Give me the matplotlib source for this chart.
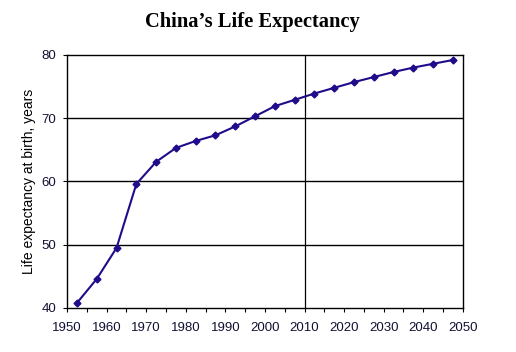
import matplotlib
matplotlib.use("Agg")
import matplotlib.pyplot as plt
from matplotlib.ticker import MultipleLocator

# China life expectancy, 5-year periods (midpoints), UN estimates/projections
years = [1952.5, 1957.5, 1962.5, 1967.5, 1972.5, 1977.5, 1982.5, 1987.5, 1992.5, 1997.5,
         2002.5, 2007.5, 2012.5, 2017.5, 2022.5, 2027.5, 2032.5, 2037.5, 2042.5, 2047.5]
life_exp = [40.8, 44.6, 49.5, 59.6, 63.1, 65.3, 66.4, 67.3, 68.7, 70.3,
            71.9, 72.9, 73.9, 74.8, 75.7, 76.5, 77.3, 78.0, 78.6, 79.2]

line_color = "#1f0c8a"
text_color = "#111133"

fig = plt.figure(figsize=(5.16, 3.52), dpi=100)
ax = fig.add_axes([0.130, 0.125, 0.767, 0.719])

ax.plot(years, life_exp, color=line_color, lw=1.5, marker="D", ms=3.5,
        markeredgecolor=line_color, markerfacecolor=line_color, zorder=3)

ax.set_xlim(1950, 2050)
ax.set_ylim(40, 80)
ax.xaxis.set_major_locator(MultipleLocator(10))
ax.xaxis.set_minor_locator(MultipleLocator(5))
ax.yaxis.set_major_locator(MultipleLocator(10))

# horizontal gridlines and the 2010 divider
for v in [50, 60, 70]:
    ax.axhline(v, color="black", lw=1.0, zorder=1)
ax.axvline(2010, color="black", lw=0.9, zorder=1)

for s in ax.spines.values():
    s.set_color("black")
    s.set_linewidth(1.0)

ax.tick_params(axis="both", which="both", direction="out", length=3, width=0.8,
               labelsize=9.5, labelcolor=text_color)
ax.tick_params(axis="y", pad=5)
ax.tick_params(axis="x", pad=7)
for lab in ax.get_xticklabels() + ax.get_yticklabels():
    lab.set_family("Liberation Sans")

ax.set_ylabel("Life expectancy at birth, years", family="Liberation Sans",
              fontsize=10, color="black", labelpad=4)
fig.suptitle("China\u2019s Life Expectancy", x=0.49, y=0.965, family="Liberation Serif",
             fontsize=14.8, fontweight="bold")

fig.savefig("out.png", dpi=100)
